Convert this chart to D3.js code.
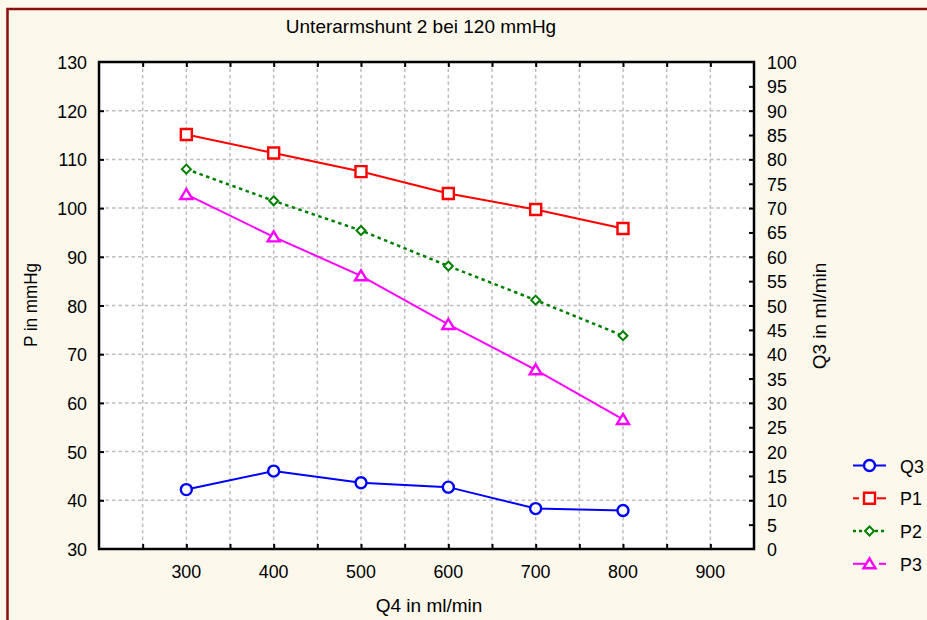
<!DOCTYPE html>
<html>
<head>
<meta charset="utf-8">
<script src="https://cdn.jsdelivr.net/npm/d3@7/dist/d3.min.js"></script>
<style>
  html, body { margin: 0; padding: 0; background: #fdf8ec; }
  svg { display: block; }
  text { font-family: "Liberation Sans", Arial, sans-serif; fill: #000; }
</style>
</head>
<body>
<svg id="chart" width="927" height="620"></svg>
<script>
// Flow in Q4 (ml/min)
const q4 = [300, 400, 500, 600, 700, 800];
// Pressures in mmHg (left axis)
const p1 = [115.1, 111.3, 107.5, 103.0, 99.7, 95.8];
const p2 = [108.0, 101.5, 95.4, 88.1, 81.1, 73.8];
const p3 = [102.8, 94.1, 86.1, 76.1, 66.8, 56.6];
// Flow Q3 in ml/min (right axis)
const q3 = [12.2, 16.0, 13.6, 12.7, 8.3, 7.9];

const xTickLabels = [300, 400, 500, 600, 700, 800, 900];
const leftTickLabels = [30, 40, 50, 60, 70, 80, 90, 100, 110, 120, 130];
const rightTickLabels = [0, 5, 10, 15, 20, 25, 30, 35, 40, 45, 50, 55, 60, 65, 70, 75, 80, 85, 90, 95, 100];

const titleText = "Unterarmshunt 2 bei 120 mmHg";
const xTitle = "Q4 in ml/min";
const yLeftTitle = "P in mmHg";
const yRightTitle = "Q3 in ml/min";

const svg = d3.select("#chart");
const W = 927, H = 620;
const plot = { left: 99, top: 62, right: 754, bottom: 549 };
const FS = 19;        // font size
const SX = 0.94;      // horizontal squeeze of glyphs

svg.append("rect").attr("width", W).attr("height", H).attr("fill", "#fdf8ec");
// dark red outer frame
svg.append("rect").attr("x", 7.5).attr("y", 9).attr("width", 1000).attr("height", 1000)
  .attr("fill", "none").attr("stroke", "#8b0d0d").attr("stroke-width", 2.5);

const x = d3.scaleLinear().domain([200, 950]).range([plot.left, plot.right]);
const yL = d3.scaleLinear().domain([30, 130]).range([plot.bottom, plot.top]);
const yR = d3.scaleLinear().domain([0, 100]).range([plot.bottom, plot.top]);

// plot area
svg.append("rect").attr("x", plot.left).attr("y", plot.top)
  .attr("width", plot.right - plot.left).attr("height", plot.bottom - plot.top)
  .attr("fill", "#fff");

// helper for slightly condensed text
function label(g, tx, ty, str, anchor, rot, sx) {
  return g.append("text")
    .attr("transform", `translate(${tx},${ty})` + (rot ? ` rotate(${rot})` : "") + ` scale(${sx || SX},1)`)
    .attr("text-anchor", anchor)
    .attr("font-size", FS)
    .text(str);
}

// grid lines
const grid = svg.append("g").attr("stroke", "#bdbdbd").attr("stroke-width", 1.5)
  .attr("stroke-dasharray", "3.5,3");
d3.range(250, 950, 50).forEach(v => {
  grid.append("line").attr("x1", x(v)).attr("x2", x(v))
    .attr("y1", plot.top).attr("y2", plot.bottom);
});
d3.range(40, 130, 10).forEach(v => {
  grid.append("line").attr("y1", yL(v)).attr("y2", yL(v))
    .attr("x1", plot.left).attr("x2", plot.right);
});

// axes (ticks inward)
const axBottom = d3.axisBottom(x).tickValues(d3.range(250, 950, 50)).tickSize(-5).tickFormat("");
const axTop = d3.axisTop(x).tickValues(d3.range(250, 950, 50)).tickSize(-5).tickFormat("");
const axLeft = d3.axisLeft(yL).tickValues(d3.range(40, 130, 10)).tickSize(-5).tickFormat("");
const axRight = d3.axisRight(yR).tickValues(d3.range(5, 100, 5)).tickSize(-5).tickFormat("");

function styleAxis(g) {
  g.select(".domain").remove();
  g.selectAll(".tick line").attr("stroke", "#000").attr("stroke-width", 2);
}
svg.append("g").attr("transform", `translate(0,${plot.bottom})`).call(axBottom).call(styleAxis);
svg.append("g").attr("transform", `translate(0,${plot.top})`).call(axTop).call(styleAxis);
svg.append("g").attr("transform", `translate(${plot.left},0)`).call(axLeft).call(styleAxis);
svg.append("g").attr("transform", `translate(${plot.right},0)`).call(axRight).call(styleAxis);

svg.append("rect").attr("x", plot.left).attr("y", plot.top)
  .attr("width", plot.right - plot.left).attr("height", plot.bottom - plot.top)
  .attr("fill", "none").attr("stroke", "#000").attr("stroke-width", 2.5);

// tick labels
const labels = svg.append("g");
xTickLabels.forEach(v => label(labels, x(v), 578, v, "middle"));
leftTickLabels.forEach(v => label(labels, 87, yL(v) + 7, v, "end"));
rightTickLabels.forEach(v => label(labels, 767, yR(v) + 7, v, "start"));

// titles
label(svg, 421, 33, titleText, "middle", null, 1);
label(svg, 429, 612, xTitle, "middle", null, 1);
label(svg, 37, 305, yLeftTitle, "middle", -90, 0.9);
label(svg, 826, 316, yRightTitle, "middle", -90, 1);

// series
const series = [
  { name: "Q3", vals: q3, y: yR, color: "#0000ff", dash: null, width: 2, marker: "circle" },
  { name: "P1", vals: p1, y: yL, color: "#ff0000", dash: null, width: 2, marker: "square" },
  { name: "P2", vals: p2, y: yL, color: "#008000", dash: "3.5,3.5", width: 2.5, marker: "diamond" },
  { name: "P3", vals: p3, y: yL, color: "#ff00ff", dash: null, width: 2, marker: "triangle" }
];

const markerPath = {
  circle: d3.symbol(d3.symbolCircle, 95)(),
  square: "M-5.5,-5.5H5.5V5.5H-5.5Z",
  diamond: "M0,-4.5L4.5,0L0,4.5L-4.5,0Z",
  triangle: "M0,-5.5L6,4.5H-6Z"
};
const markerStroke = { circle: 2.4, square: 2.4, diamond: 2, triangle: 2.4 };

series.forEach(s => {
  const line = d3.line().x((d, i) => x(q4[i])).y(d => s.y(d));
  svg.append("path").datum(s.vals).attr("d", line)
    .attr("fill", "none").attr("stroke", s.color).attr("stroke-width", s.width)
    .attr("stroke-dasharray", s.dash);
  svg.append("g").selectAll("path").data(s.vals).join("path")
    .attr("d", markerPath[s.marker])
    .attr("transform", (d, i) => `translate(${x(q4[i])},${s.y(d)})`)
    .attr("fill", "#fff").attr("stroke", s.color).attr("stroke-width", markerStroke[s.marker]);
});

// legend
const legendY = [465.5, 498.3, 531, 563.8];
const legendSeg = {
  Q3: [[853, 864, null], [875, 886, null]],
  P1: [[853, 859, null], [877, 886, null]],
  P2: [[853, 864, "3,3"], [875, 886, "3,3"]],
  P3: [[853, 865, null], [879, 886, null]]
};
const legend = svg.append("g");
series.forEach((s, k) => {
  const cy = legendY[k];
  legendSeg[s.name].forEach(([a, b, dsh]) => {
    legend.append("line").attr("x1", a).attr("x2", b).attr("y1", cy).attr("y2", cy)
      .attr("stroke", s.color).attr("stroke-width", s.width).attr("stroke-dasharray", dsh);
  });
  legend.append("path").attr("d", markerPath[s.marker])
    .attr("transform", `translate(869.5,${cy})`)
    .attr("fill", "#fff").attr("stroke", s.color).attr("stroke-width", markerStroke[s.marker]);
  label(legend, 900, cy + 7, s.name, "start");
});
</script>
</body>
</html>
